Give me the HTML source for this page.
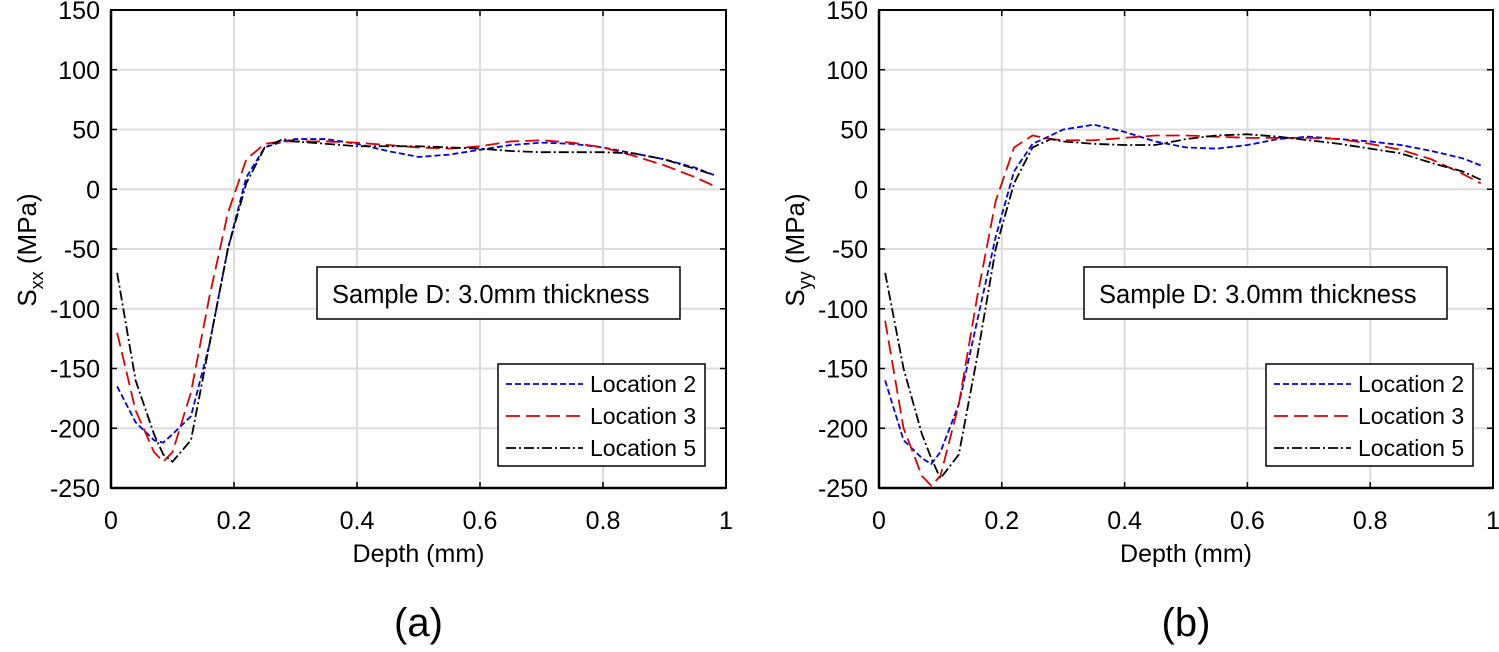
<!DOCTYPE html>
<html><head><meta charset="utf-8"><style>
body{margin:0;background:#fff;font-family:"Liberation Sans",sans-serif}
svg text{font-family:"Liberation Sans",sans-serif}
</style></head><body>
<svg id="svg" width="1499" height="647" xmlns="http://www.w3.org/2000/svg"></svg>
<script>
const depth=[0.01,0.04,0.07,0.085,0.1,0.13,0.16,0.19,0.22,0.25,0.28,0.3,0.35,0.4,0.45,0.5,0.55,0.6,0.65,0.7,0.75,0.8,0.85,0.9,0.95,0.98];
const sxxLoc2=[-165,-195,-210,-212,-205,-190,-130,-50,10,35,40,42,42,38,32,27,29,33,37,39,38,35,30,25,18,12];
const sxxLoc3=[-120,-185,-220,-228,-220,-170,-90,-20,25,38,40,40,40,39,37,35,34,36,40,41,39,35,28,20,10,3];
const sxxLoc5=[-70,-160,-205,-222,-228,-210,-130,-50,5,35,42,40,38,36,36,36,35,34,32,31,31,31,30,25,17,12];
const syyLoc2=[-160,-210,-225,-230,-220,-180,-110,-40,15,38,45,50,54,48,40,35,34,37,42,44,42,40,37,32,26,20];
const syyLoc3=[-110,-200,-240,-248,-240,-180,-90,-10,35,45,42,41,41,43,45,45,44,43,43,43,42,38,33,25,13,5];
const syyLoc5=[-70,-150,-205,-225,-242,-222,-140,-50,5,35,42,40,38,37,37,42,45,46,44,41,38,34,30,22,15,8];
const xTicks=[0,0.2,0.4,0.6,0.8,1];
const xTickLabels=["0","0.2","0.4","0.6","0.8","1"];
const yTicks=[150,100,50,0,-50,-100,-150,-200,-250];
const legendLabels=["Location 2","Location 3","Location 5"];
const svg=document.getElementById('svg');
const NS='http://www.w3.org/2000/svg';
function mk(t,a,p){const e=document.createElementNS(NS,t);for(const k in a)e.setAttribute(k,a[k]);(p||svg).appendChild(e);return e;}
const styles=[{c:'#0000ee',d:'6,3'},{c:'#e00000',d:'14,6'},{c:'#000',d:'10,3,2,3'}];
function panel(x0,x1,series,ylab,sub,tb,lg,tag){
  const y0=10,y1=488;
  const X=v=>x0+(x1-x0)*v, Y=v=>y0+(150-v)*(y1-y0)/400;
  const g=mk('g',{});
  
  
  xTicks.forEach((t,i)=>{
    const l=mk('line',{x1:X(t),x2:X(t),y1:y0,y2:y1,stroke:'#dcdcdc','stroke-width':2},g);
    
    mk('line',{x1:X(t),x2:X(t),y1:y1,y2:y1-6,stroke:'#000','stroke-width':1.5},g);
    mk('line',{x1:X(t),x2:X(t),y1:y0,y2:y0+6,stroke:'#000','stroke-width':1.5},g);
    const tx=mk('text',{x:X(t),y:529,'text-anchor':'middle','font-size':25},g);tx.textContent=xTickLabels[i];
    
  });
  yTicks.forEach(t=>{
    const l=mk('line',{x1:x0,x2:x1,y1:Y(t),y2:Y(t),stroke:'#dcdcdc','stroke-width':2},g);
    
    mk('line',{x1:x0,x2:x0+6,y1:Y(t),y2:Y(t),stroke:'#000','stroke-width':1.5},g);
    mk('line',{x1:x1,x2:x1-6,y1:Y(t),y2:Y(t),stroke:'#000','stroke-width':1.5},g);
    const tx=mk('text',{x:x0-11,y:Y(t)+9,'text-anchor':'end','font-size':25},g);tx.textContent=t;
    
  });
  mk('rect',{x:x0,y:y0,width:x1-x0,height:y1-y0,fill:'none',stroke:'#000','stroke-width':2},g);
  mk('line',{x1:x0,x2:x1,y1:y1,y2:y1,stroke:'#000','stroke-width':2.5},g);
  mk('line',{x1:x0,x2:x0,y1:y0,y2:y1,stroke:'#000','stroke-width':2.5},g);
  series.forEach((s,i)=>{
    const p=mk('polyline',{points:depth.map((d,j)=>X(d)+','+Y(s[j])).join(' '),fill:'none',stroke:styles[i].c,'stroke-width':1.8,'stroke-dasharray':styles[i].d},g);
    
    
  });
  const t=mk('g',{},g);
  mk('rect',{x:tb,y:267,width:363,height:52,fill:'#fff',stroke:'#000','stroke-width':1.5},t);
  const tt=mk('text',{x:tb+15,y:303,'font-size':25.5},t);tt.textContent='Sample D: 3.0mm thickness';
  const L=mk('g',{},g);
  mk('rect',{x:lg,y:364,width:207,height:102,fill:'#fff',stroke:'#000','stroke-width':1.5},L);
  legendLabels.forEach((n,i)=>{
    const yy=384+i*32;
    const e=mk('g',{},L);
    mk('line',{x1:lg+8,x2:lg+85,y1:yy,y2:yy,stroke:styles[i].c,'stroke-width':1.8,'stroke-dasharray':styles[i].d},e);
    const tx=mk('text',{x:lg+92,y:yy+8,'font-size':23},e);tx.textContent=n;
  });
  const xl=mk('text',{x:(x0+x1)/2,y:562,'text-anchor':'middle','font-size':25},g);xl.textContent='Depth (mm)';
  
  const yl=mk('text',{transform:`translate(${x0-75},250) rotate(-90)`,'text-anchor':'middle','font-size':26},g);
  yl.innerHTML='S<tspan font-size="18" dy="7">'+ylab+'</tspan><tspan dy="-7"> (MPa)</tspan>';
  
  const sl=mk('text',{x:(x0+x1)/2,y:636,'text-anchor':'middle','font-size':40},g);sl.textContent=sub;
  
}
panel(111,726,[sxxLoc2,sxxLoc3,sxxLoc5],'xx','(a)',317,498,'sxx');
panel(879,1493,[syyLoc2,syyLoc3,syyLoc5],'yy','(b)',1084,1266,'syy');
</script>
</body></html>
